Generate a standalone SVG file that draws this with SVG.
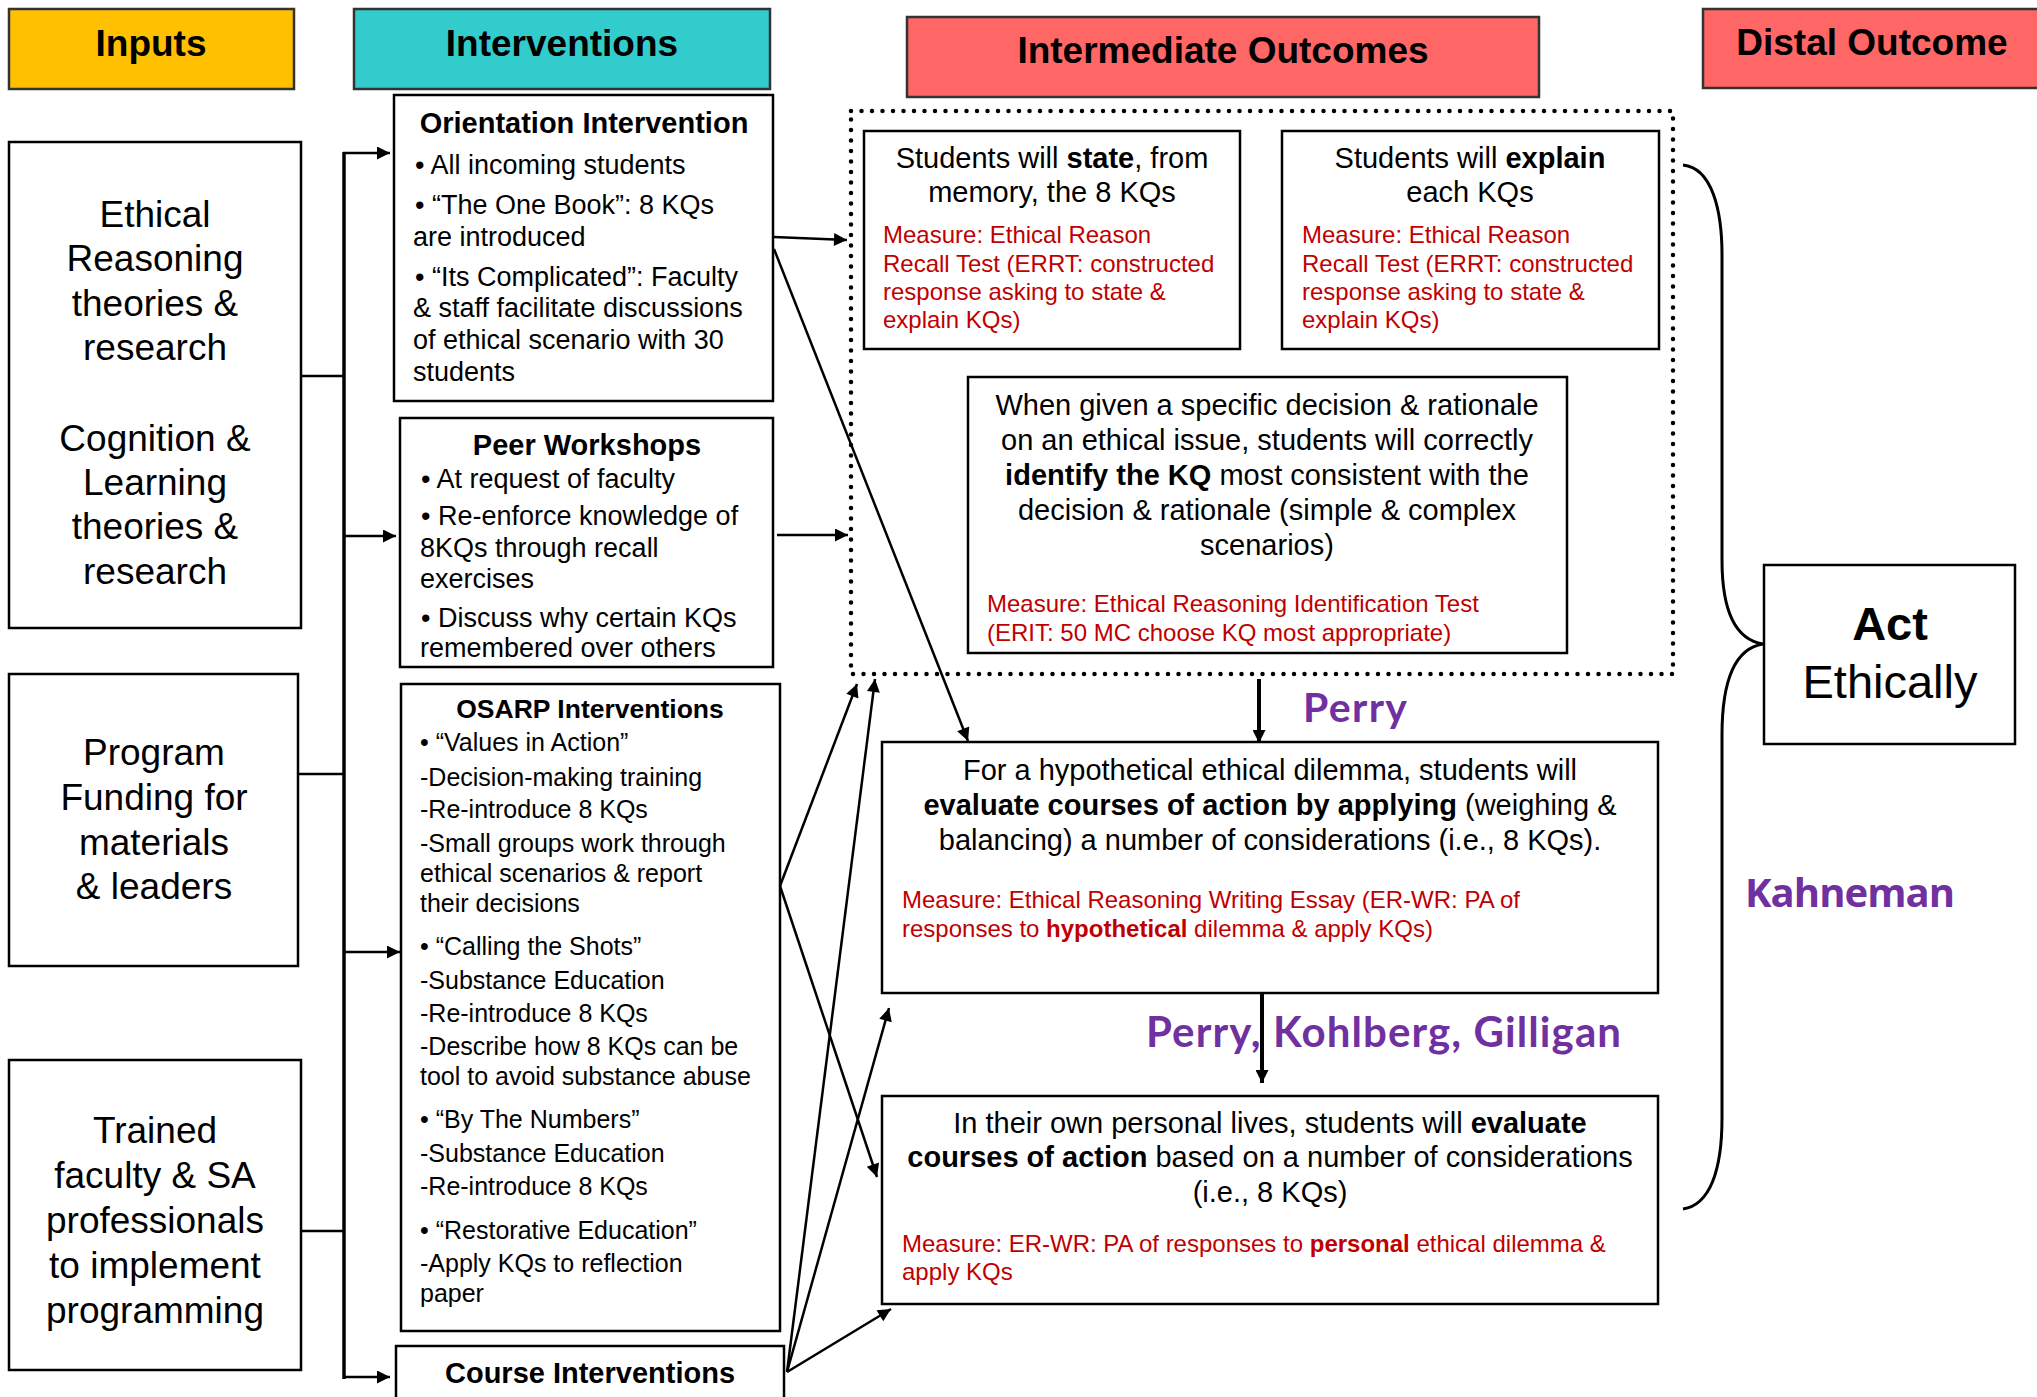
<svg xmlns="http://www.w3.org/2000/svg" width="2037" height="1397" viewBox="0 0 2037 1397">
<style>
text{font-family:"Liberation Sans",Arial,sans-serif;fill:#000}
.hdr{font-size:37px;font-weight:bold;text-anchor:middle}
.hbox{stroke:#333;stroke-width:2.5}
.box{fill:#fff;stroke:#000;stroke-width:2.5}
.inp{font-size:37px;text-anchor:middle}
.t29{font-size:29px;font-weight:bold;text-anchor:middle}
.t26{font-size:26.5px;font-weight:bold;text-anchor:middle}
.b27{font-size:27px}
.b25{font-size:25px}
.o29{font-size:29px;text-anchor:middle}
.red{font-size:24px;fill:#C00000}
.pur{font-family:Lato,"Open Sans",sans-serif;font-weight:bold;fill:#7030A0}
.ln{stroke:#000;stroke-width:2.5;fill:none}
.trunk{stroke:#000;stroke-width:3.5;fill:none}
.thick{stroke:#000;stroke-width:4;fill:none}
</style>
<defs>
<marker id="ah" viewBox="0 0 10 10" refX="10" refY="5" markerWidth="18" markerHeight="13" markerUnits="userSpaceOnUse" orient="auto">
<path d="M0,0 L10,5 L0,10 z" fill="#000"/>
</marker>
</defs>
<rect width="2037" height="1397" fill="#fff"/>

<g id="header-inputs">
<rect class="hbox" x="9" y="9" width="285" height="80" fill="#FFC000"/>
<text class="hdr" x="151" y="56">Inputs</text>
</g>
<g id="header-interventions">
<rect class="hbox" x="354" y="9" width="416" height="80" fill="#33CCCC"/>
<text class="hdr" x="562" y="56">Interventions</text>
</g>
<g id="header-intermediate">
<rect class="hbox" x="907" y="17" width="632" height="80" fill="#FF6666"/>
<text class="hdr" x="1223" y="63">Intermediate Outcomes</text>
</g>
<g id="header-distal">
<rect class="hbox" x="1703" y="9" width="340" height="79" fill="#FF6666"/>
<text class="hdr" x="1872" y="55">Distal Outcome</text>
</g>

<g id="input-theories">
<rect class="box" x="9" y="142" width="292" height="486"/>
<text class="inp" x="155" y="227">Ethical</text>
<text class="inp" x="155" y="271">Reasoning</text>
<text class="inp" x="155" y="316">theories &amp;</text>
<text class="inp" x="155" y="360">research</text>
<text class="inp" x="155" y="451">Cognition &amp;</text>
<text class="inp" x="155" y="495">Learning</text>
<text class="inp" x="155" y="539">theories &amp;</text>
<text class="inp" x="155" y="584">research</text>
</g>
<g id="input-funding">
<rect class="box" x="9" y="674" width="289" height="292"/>
<text class="inp" x="154" y="765">Program</text>
<text class="inp" x="154" y="810">Funding for</text>
<text class="inp" x="154" y="855">materials</text>
<text class="inp" x="154" y="899">&amp; leaders</text>
</g>
<g id="input-staff">
<rect class="box" x="9" y="1060" width="292" height="310"/>
<text class="inp" x="155" y="1143">Trained</text>
<text class="inp" x="155" y="1188">faculty &amp; SA</text>
<text class="inp" x="155" y="1233">professionals</text>
<text class="inp" x="155" y="1278">to implement</text>
<text class="inp" x="155" y="1323">programming</text>
</g>

<g id="orientation">
<rect class="box" x="394" y="95" width="379" height="306"/>
<text class="t29" x="584" y="133">Orientation Intervention</text>
<text class="b27" x="415" y="174">• All incoming students</text>
<text class="b27" x="415" y="214">• “The One Book”: 8 KQs</text>
<text class="b27" x="413" y="246">are introduced</text>
<text class="b27" x="415" y="286">• “Its Complicated”: Faculty</text>
<text class="b27" x="413" y="317">&amp; staff facilitate discussions</text>
<text class="b27" x="413" y="349">of ethical scenario with 30</text>
<text class="b27" x="413" y="381">students</text>
</g>
<g id="peer">
<rect class="box" x="400" y="418" width="373" height="249"/>
<text class="t29" x="587" y="455">Peer Workshops</text>
<text class="b27" x="421" y="488">• At request of faculty</text>
<text class="b27" x="421" y="525">• Re-enforce knowledge of</text>
<text class="b27" x="420" y="557">8KQs through recall</text>
<text class="b27" x="420" y="588">exercises</text>
<text class="b27" x="421" y="627">• Discuss why certain KQs</text>
<text class="b27" x="420" y="657">remembered over others</text>
</g>
<g id="osarp">
<rect class="box" x="401" y="684" width="379" height="647"/>
<text class="t26" x="590" y="718">OSARP Interventions</text>
<text class="b25" x="420" y="751">• “Values in Action”</text>
<text class="b25" x="420" y="786">-Decision-making training</text>
<text class="b25" x="420" y="818">-Re-introduce 8 KQs</text>
<text class="b25" x="420" y="852">-Small groups work through</text>
<text class="b25" x="420" y="882">ethical scenarios &amp; report</text>
<text class="b25" x="420" y="912">their decisions</text>
<text class="b25" x="420" y="955">• “Calling the Shots”</text>
<text class="b25" x="420" y="989">-Substance Education</text>
<text class="b25" x="420" y="1022">-Re-introduce 8 KQs</text>
<text class="b25" x="420" y="1055">-Describe how 8 KQs can be</text>
<text class="b25" x="420" y="1085">tool to avoid substance abuse</text>
<text class="b25" x="420" y="1128">• “By The Numbers”</text>
<text class="b25" x="420" y="1162">-Substance Education</text>
<text class="b25" x="420" y="1195">-Re-introduce 8 KQs</text>
<text class="b25" x="420" y="1239">• “Restorative Education”</text>
<text class="b25" x="420" y="1272">-Apply KQs to reflection</text>
<text class="b25" x="420" y="1302">paper</text>
</g>
<g id="course">
<rect class="box" x="396" y="1346" width="388" height="70"/>
<text class="t29" x="590" y="1383">Course Interventions</text>
</g>

<g id="outcome-group">
<rect x="851" y="111" width="822" height="563" fill="none" stroke="#000" stroke-width="4.5" stroke-dasharray="0 10.5" stroke-linecap="round"/>
</g>
<g id="outcome-state">
<rect class="box" x="864" y="131" width="376" height="218"/>
<text class="o29" x="1052" y="168">Students will <tspan font-weight="bold">state</tspan>, from</text>
<text class="o29" x="1052" y="202">memory, the 8 KQs</text>
<text class="red" x="883" y="243">Measure: Ethical Reason</text>
<text class="red" x="883" y="272">Recall Test (ERRT: constructed</text>
<text class="red" x="883" y="300">response asking to state &amp;</text>
<text class="red" x="883" y="328">explain KQs)</text>
</g>
<g id="outcome-explain">
<rect class="box" x="1282" y="131" width="377" height="218"/>
<text class="o29" x="1470" y="168">Students will <tspan font-weight="bold">explain</tspan></text>
<text class="o29" x="1470" y="202">each KQs</text>
<text class="red" x="1302" y="243">Measure: Ethical Reason</text>
<text class="red" x="1302" y="272">Recall Test (ERRT: constructed</text>
<text class="red" x="1302" y="300">response asking to state &amp;</text>
<text class="red" x="1302" y="328">explain KQs)</text>
</g>
<g id="outcome-identify">
<rect class="box" x="968" y="377" width="599" height="276"/>
<text class="o29" x="1267" y="415">When given a specific decision &amp; rationale</text>
<text class="o29" x="1267" y="450">on an ethical issue, students will correctly</text>
<text class="o29" x="1267" y="485"><tspan font-weight="bold">identify the KQ</tspan> most consistent with the</text>
<text class="o29" x="1267" y="520">decision &amp; rationale (simple &amp; complex</text>
<text class="o29" x="1267" y="555">scenarios)</text>
<text class="red" x="987" y="612">Measure: Ethical Reasoning Identification Test</text>
<text class="red" x="987" y="641">(ERIT: 50 MC choose KQ most appropriate)</text>
</g>
<g id="outcome-hypothetical">
<rect class="box" x="882" y="742" width="776" height="251"/>
<text class="o29" x="1270" y="780">For a hypothetical ethical dilemma, students will</text>
<text class="o29" x="1270" y="815"><tspan font-weight="bold">evaluate courses of action by applying</tspan> (weighing &amp;</text>
<text class="o29" x="1270" y="850">balancing) a number of considerations (i.e., 8 KQs).</text>
<text class="red" x="902" y="908">Measure: Ethical Reasoning Writing Essay (ER-WR: PA of</text>
<text class="red" x="902" y="937">responses to <tspan font-weight="bold">hypothetical</tspan> dilemma &amp; apply KQs)</text>
</g>
<g id="outcome-personal">
<rect class="box" x="882" y="1096" width="776" height="208"/>
<text class="o29" x="1270" y="1133">In their own personal lives, students will <tspan font-weight="bold">evaluate</tspan></text>
<text class="o29" x="1270" y="1167"><tspan font-weight="bold">courses of action</tspan> based on a number of considerations</text>
<text class="o29" x="1270" y="1202">(i.e., 8 KQs)</text>
<text class="red" x="902" y="1252">Measure: ER-WR: PA of responses to <tspan font-weight="bold">personal</tspan> ethical dilemma &amp;</text>
<text class="red" x="902" y="1280">apply KQs</text>
</g>
<g id="distal-act">
<rect class="box" x="1764" y="565" width="251" height="179"/>
<text x="1890" y="640" font-size="47" font-weight="bold" text-anchor="middle">Act</text>
<text x="1890" y="698" font-size="47" text-anchor="middle">Ethically</text>
</g>

<g id="labels">
<text class="pur" x="1303" y="722" font-size="41" textLength="104">Perry</text>
<text class="pur" x="1146" y="1047" font-size="42" textLength="475">Perry, Kohlberg, Gilligan</text>
<text class="pur" x="1745" y="907" font-size="40" textLength="210" style="font-family:'Open Sans',Lato,sans-serif">Kahneman</text>
</g>

<g id="connectors">
<line class="ln" x1="301" y1="376" x2="344" y2="376"/>
<line class="ln" x1="298" y1="774" x2="344" y2="774"/>
<line class="ln" x1="301" y1="1231" x2="344" y2="1231"/>
<line class="trunk" x1="344" y1="152" x2="344" y2="1379"/>
<line class="ln" x1="343" y1="153" x2="390" y2="153" marker-end="url(#ah)"/>
<line class="ln" x1="344" y1="536" x2="396" y2="536" marker-end="url(#ah)"/>
<line class="ln" x1="344" y1="952" x2="400" y2="952" marker-end="url(#ah)"/>
<line class="ln" x1="343" y1="1377" x2="390" y2="1377" marker-end="url(#ah)"/>
<line class="ln" x1="774" y1="237" x2="847" y2="240" marker-end="url(#ah)"/>
<line class="ln" x1="774" y1="249" x2="968" y2="741" marker-end="url(#ah)"/>
<line class="ln" x1="777" y1="535" x2="848" y2="535" marker-end="url(#ah)"/>
<line class="ln" x1="780" y1="886" x2="857" y2="684" marker-end="url(#ah)"/>
<line class="ln" x1="780" y1="886" x2="877" y2="1177" marker-end="url(#ah)"/>
<line class="ln" x1="787" y1="1372" x2="875" y2="679" marker-end="url(#ah)"/>
<line class="ln" x1="787" y1="1372" x2="889" y2="1008" marker-end="url(#ah)"/>
<line class="ln" x1="787" y1="1372" x2="891" y2="1309" marker-end="url(#ah)"/>
<line class="thick" x1="1259" y1="679" x2="1259" y2="743" marker-end="url(#ah)"/>
<line class="thick" x1="1262" y1="993" x2="1262" y2="1083" marker-end="url(#ah)"/>
<path d="M1683,165 C1712,168 1722,210 1722,255 L1722,560 C1722,615 1738,640 1763,644 C1738,648 1722,675 1722,735 L1722,1118 C1722,1170 1710,1205 1683,1209" fill="none" stroke="#000" stroke-width="3"/>
</g>
</svg>
